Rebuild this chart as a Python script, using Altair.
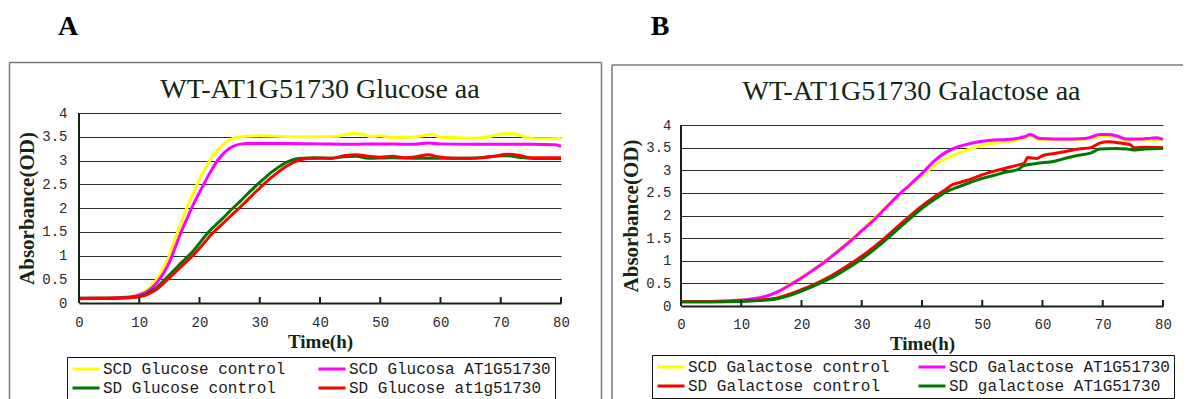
import altair as alt
import pandas as pd

# ---------------- text ----------------
PANEL_LABELS = ["A", "B"]
TITLES = ["WT-AT1G51730 Glucose aa", "WT-AT1G51730 Galactose aa"]
X_TITLE = "Time(h)"
Y_TITLE = "Absorbance(OD)"
X_TICKS = [0, 10, 20, 30, 40, 50, 60, 70, 80]
Y_TICKS = [0, 0.5, 1, 1.5, 2, 2.5, 3, 3.5, 4]

# ---------------- panel A (glucose) ----------------
A_SERIES = ["SCD Glucose control", "SCD Glucosa AT1G51730",
            "SD Glucose control", "SD Glucose at1g51730"]
A_COLORS = ["#FFFF00", "#FF00FF", "#007800", "#FF0000"]

A_YEL_T = [0, 3, 6, 8, 9, 10, 11, 12, 13, 14, 15, 16, 17, 18, 19, 20, 21, 22, 23, 24, 25, 26, 27, 28,
           30, 33, 36, 40, 43, 45, 47, 48.5, 50, 52, 55, 57, 58.5, 60, 63, 66, 68, 70, 72, 74, 76, 78, 80]
A_YEL_V = [0.10, 0.10, 0.11, 0.13, 0.15, 0.18, 0.25, 0.36, 0.52, 0.74, 1.00, 1.36, 1.72, 2.04, 2.32, 2.60,
           2.85, 3.06, 3.22, 3.35, 3.44, 3.48, 3.50, 3.51,
           3.52, 3.51, 3.50, 3.50, 3.51, 3.57, 3.56, 3.50, 3.52, 3.48, 3.49, 3.52, 3.56, 3.49, 3.48, 3.47,
           3.50, 3.56, 3.57, 3.50, 3.46, 3.46, 3.47]

A_MAG_T = [0, 3, 6, 8, 9, 10, 11, 12, 13, 14, 15, 16, 17, 18, 19, 20, 21, 22, 23, 24, 25, 26, 27, 28,
           31, 35, 40, 45, 50, 55, 58, 60, 65, 70, 75, 79, 80]
A_MAG_V = [0.10, 0.10, 0.11, 0.12, 0.14, 0.17, 0.22, 0.31, 0.44, 0.62, 0.86, 1.18, 1.51, 1.80, 2.08, 2.33,
           2.57, 2.80, 3.00, 3.15, 3.26, 3.32, 3.35, 3.36,
           3.36, 3.36, 3.35, 3.34, 3.35, 3.34, 3.37, 3.35, 3.34, 3.34, 3.34, 3.33, 3.30]

A_GRN_T = [0, 3, 6, 8, 9, 10, 11, 12, 13, 14, 15, 16, 17, 18, 19, 20, 21, 22, 23, 24, 25, 26, 27, 28,
           29, 30, 31, 32, 33, 34, 35, 36, 37,
           39, 42, 44, 46, 48, 52, 56, 60, 65, 69, 71, 73, 76, 80]
A_GRN_V = [0.10, 0.10, 0.10, 0.11, 0.12, 0.14, 0.18, 0.25, 0.34, 0.46, 0.59, 0.72, 0.85, 0.97, 1.10, 1.26,
           1.42, 1.56, 1.68, 1.80, 1.93, 2.05, 2.17, 2.30, 2.42, 2.54, 2.65, 2.76, 2.85, 2.93, 2.99, 3.03,
           3.05,
           3.06, 3.05, 3.08, 3.09, 3.05, 3.06, 3.05, 3.05, 3.05, 3.09, 3.10, 3.07, 3.04, 3.04]

A_RED_T = [0, 3, 6, 8, 9, 10, 11, 12, 13, 14, 15, 16, 17, 18, 19, 20, 21, 22, 23, 24, 25, 26, 27, 28,
           29, 30, 31, 32, 33, 34, 35, 36, 37, 38,
           40, 42, 44, 46, 48, 50, 52, 54, 56, 58, 59.5, 62, 66, 69, 71, 73, 75, 78, 80]
A_RED_V = [0.09, 0.10, 0.10, 0.11, 0.12, 0.13, 0.16, 0.22, 0.30, 0.41, 0.53, 0.65, 0.77, 0.89, 1.01, 1.15,
           1.30, 1.45, 1.57, 1.69, 1.81, 1.93, 2.05, 2.17, 2.30, 2.42, 2.54, 2.65, 2.75, 2.84, 2.92, 2.98,
           3.02, 3.04,
           3.05, 3.05, 3.10, 3.12, 3.09, 3.07, 3.09, 3.06, 3.08, 3.12, 3.08, 3.05, 3.05, 3.09, 3.13, 3.11,
           3.06, 3.06, 3.06]

# ---------------- panel B (galactose) ----------------
B_SERIES = ["SCD Galactose control", "SCD Galactose AT1G51730",
            "SD Galactose control", "SD galactose AT1G51730"]
B_COLORS = ["#FFFF00", "#FF00FF", "#FF0000", "#007800"]

B_YEL_T = [0, 5, 8, 10, 12, 14, 16, 18, 20, 22, 24, 26, 28, 30, 32, 34, 36, 38, 40, 42, 44, 46, 48, 50,
           52, 54, 56, 57, 58, 59.5, 62, 65, 68, 69.5, 71, 72.5, 74, 76, 80]
B_YEL_V = [0.10, 0.10, 0.11, 0.13, 0.16, 0.21, 0.31, 0.47, 0.63, 0.81, 1.00, 1.22, 1.44, 1.68, 1.92, 2.18,
           2.44, 2.66, 2.88, 3.10, 3.26, 3.38, 3.47, 3.55, 3.60, 3.63, 3.67,
           3.72, 3.76, 3.68, 3.67, 3.67, 3.70, 3.75, 3.76, 3.73, 3.66, 3.67, 3.67]

B_MAG_T = [0, 5, 8, 10, 12, 14, 16, 18, 20, 22, 24, 26, 28, 30, 32, 34, 36, 38, 40, 42, 44, 46, 48, 50,
           52, 54, 56, 57, 58, 59.5, 62, 65, 67, 68, 69.5, 71, 72.5, 74, 76, 78, 79, 80]
B_MAG_V = [0.10, 0.10, 0.11, 0.13, 0.16, 0.21, 0.31, 0.46, 0.62, 0.80, 0.99, 1.20, 1.42, 1.66, 1.90, 2.17,
           2.44, 2.68, 2.93, 3.20, 3.40, 3.52, 3.59, 3.64, 3.67, 3.68, 3.71,
           3.74, 3.79, 3.70, 3.69, 3.69, 3.70, 3.73, 3.79, 3.79, 3.75, 3.69, 3.69, 3.71, 3.72, 3.68]

B_RED_T = [0, 5, 10, 13, 16, 18, 20, 22, 24, 26, 28, 30, 32, 34, 36, 38, 40, 42, 44,
           45, 46, 48, 50, 52, 54, 56, 57, 57.5, 59, 60, 62, 64, 66, 68, 69.5, 71, 73, 74.5, 75.2, 77, 80]
B_RED_V = [0.10, 0.10, 0.11, 0.13, 0.18, 0.26, 0.36, 0.47, 0.60, 0.75, 0.92, 1.10, 1.30, 1.52, 1.76, 1.99,
           2.21, 2.41, 2.58,
           2.68, 2.72, 2.80, 2.90, 2.98, 3.05, 3.12, 3.16, 3.28, 3.26, 3.32, 3.37, 3.42, 3.47, 3.50, 3.60,
           3.63, 3.60, 3.57, 3.50, 3.51, 3.50]

B_GRN_T = [0, 5, 10, 13, 16, 18, 20, 22, 24, 26, 28, 30, 32, 34, 36, 38, 40, 42, 44,
           46, 48, 50, 52, 54, 56, 56.8, 59, 62, 64, 66, 68, 69.5, 72, 74, 75.4, 77, 80]
B_GRN_V = [0.09, 0.09, 0.10, 0.12, 0.16, 0.23, 0.33, 0.44, 0.56, 0.70, 0.86, 1.04, 1.24, 1.46, 1.70, 1.93,
           2.16, 2.35, 2.52,
           2.63, 2.73, 2.82, 2.89, 2.96, 3.02, 3.10, 3.15, 3.20, 3.27, 3.33, 3.38, 3.47, 3.48, 3.47, 3.45,
           3.47, 3.48]

# axis line spans the labelled range
Y_AXIS_FROM = [0]
Y_AXIS_TO = [4]

# ---------------- style ----------------
MONO = "Liberation Mono"
SERIF = "Liberation Serif"
AXIS_COLOR = "#152515"
GRID_COLOR = "#283028"
FRAME_COLOR = "#7a7a7a"
LABEL_COLOR = "#2a2a2a"
TITLE_COLOR = "#142614"


def series_frame(name, ts, vs):
    return pd.DataFrame({"series": [name] * len(ts), "t": ts, "v": vs})


def build_panel(idx, names, colors, series_data, geo):
    W, H = geo["w"], geo["h"]
    ymax = 4.0 * H / geo["h4"]
    xs = alt.Scale(domain=[0, 80], nice=False, zero=False)
    ys = alt.Scale(domain=[0, ymax], nice=False, zero=False)

    x_axis = alt.Axis(
        values=X_TICKS, format="d", grid=False, domain=True, domainColor=AXIS_COLOR, domainWidth=2,
        ticks=False, tickSize=0, labelFlush=False, labelFont=MONO, labelFontSize=14,
        labelColor=LABEL_COLOR, labelPadding=geo["xlabpad"], title=X_TITLE, titleFont=SERIF,
        titleFontSize=19, titleFontWeight="bold", titleColor=TITLE_COLOR, titlePadding=geo["xtitlepad"])
    y_axis = alt.Axis(
        values=Y_TICKS, format="~g", grid=True, gridColor=GRID_COLOR, gridWidth=1, domain=False,
        ticks=False, tickSize=0, labelFont=MONO, labelFontSize=14, labelColor=LABEL_COLOR,
        labelPadding=geo["ylabpad"], title=Y_TITLE, titleFont=SERIF, titleFontSize=21,
        titleFontWeight="bold", titleColor=TITLE_COLOR, titlePadding=geo["ytitlepad"],
        titleY=geo["titley"])
    x_enc = alt.X("t:Q", scale=xs, axis=x_axis)
    y_enc = alt.Y("v:Q", scale=ys, axis=y_axis)
    color_enc = alt.Color("series:N", scale=alt.Scale(domain=names, range=colors), legend=alt.Legend(
        title=None, orient="none", legendX=geo["legx"], legendY=geo["legy"], columns=2,
        direction="horizontal", symbolType="stroke", symbolSize=729, symbolStrokeWidth=3,
        clipHeight=16, labelFont=MONO, labelFontSize=16, labelColor="#1a1a1a", labelLimit=600,
        labelOffset=2, strokeColor="#111111", fillColor="white",
        padding=4, columnPadding=geo["colpad"], rowPadding=3))

    one = alt.Chart(pd.DataFrame({"k": [0]}))
    layers = []
    # white guide line fixing the panel's outer extent (invisible on white)
    ex0, ex1 = geo["ext"]
    layers.append(one.mark_rule(color="white", strokeWidth=1).encode(
        x=alt.value(ex0 + 0.5), x2=alt.value(ex1 - 0.5), y=alt.value(-104.5)))
    # panel frame
    fl, ft, fr, fend = geo["frame"]
    layers.append(one.mark_rule(color=FRAME_COLOR, strokeWidth=1.5).encode(
        x=alt.value(fl), y=alt.value(ft), y2=alt.value(300)))
    layers.append(one.mark_rule(color=FRAME_COLOR, strokeWidth=1.5).encode(
        x=alt.value(fl), x2=alt.value(fend), y=alt.value(ft)))
    if fr is not None:
        layers.append(one.mark_rule(color=FRAME_COLOR, strokeWidth=1.5).encode(
            x=alt.value(fr), y=alt.value(ft), y2=alt.value(300)))
    # data lines (draw order = list order)
    for k, (ts, vs) in enumerate(series_data):
        layers.append(alt.Chart(series_frame(names[k], ts, vs)).mark_line(
            strokeWidth=3, interpolate="monotone").encode(x=x_enc, y=y_enc, color=color_enc))
    # y axis line from 0 to 4
    layers.append(alt.Chart(pd.DataFrame({"v": Y_AXIS_FROM, "v2": Y_AXIS_TO})).mark_rule(
        color=AXIS_COLOR, strokeWidth=2).encode(x=alt.value(0), y=alt.Y("v:Q", scale=ys, axis=y_axis),
                                                 y2="v2:Q"))
    # inner x ticks
    layers.append(alt.Chart(pd.DataFrame({"t": X_TICKS[1:]})).mark_rule(
        color=AXIS_COLOR, strokeWidth=2).encode(
        x=alt.X("t:Q", scale=xs, axis=x_axis), y=alt.value(H), y2=alt.value(H - 6)))
    # chart title
    layers.append(one.mark_text(font=SERIF, fontSize=28, color=TITLE_COLOR, align="center",
                                baseline="alphabetic").encode(
        x=alt.value(geo["title_x"]), y=alt.value(geo["title_y"]), text=alt.value(TITLES[idx])))
    # panel letter
    layers.append(one.mark_text(font=SERIF, fontSize=28, fontWeight="bold", color="#000000",
                                align="center", baseline="alphabetic").encode(
        x=alt.value(geo["let_x"]), y=alt.value(geo["let_y"]), text=alt.value(PANEL_LABELS[idx])))
    return alt.layer(*layers).properties(width=W, height=H)


GEO_A = dict(w=482, h=190, h4=190, ext=(-71, 527), frame=(-69.5, -50.5, 522.5, 522.5),
             legx=-12, legy=244, colpad=31, title_x=241, title_y=-15, let_x=-11, let_y=-78,
             xlabpad=12, xtitlepad=3, ylabpad=12, ytitlepad=4, titley=95)
GEO_B = dict(w=482, h=193, h4=181, ext=(-75, 503), frame=(-69, -48, None, 502),
             legx=-29, legy=242, colpad=27, title_x=230.5, title_y=-13, let_x=-21, let_y=-78,
             xlabpad=11, xtitlepad=3, ylabpad=10, ytitlepad=4, titley=102.5)

panel_a = build_panel(0, A_SERIES, A_COLORS,
                      [(A_YEL_T, A_YEL_V), (A_MAG_T, A_MAG_V), (A_GRN_T, A_GRN_V), (A_RED_T, A_RED_V)],
                      GEO_A)
panel_b = build_panel(1, B_SERIES, B_COLORS,
                      [(B_YEL_T, B_YEL_V), (B_MAG_T, B_MAG_V), (B_RED_T, B_RED_V), (B_GRN_T, B_GRN_V)],
                      GEO_B)

chart = alt.hconcat(panel_a, panel_b, spacing=0).resolve_scale(color="independent").properties(
    padding={"left": 0, "top": 0, "right": 0, "bottom": 0}, background="white"
).configure_view(strokeWidth=0)

chart.save("out.html", embed_options={"renderer": "svg", "actions": False})
